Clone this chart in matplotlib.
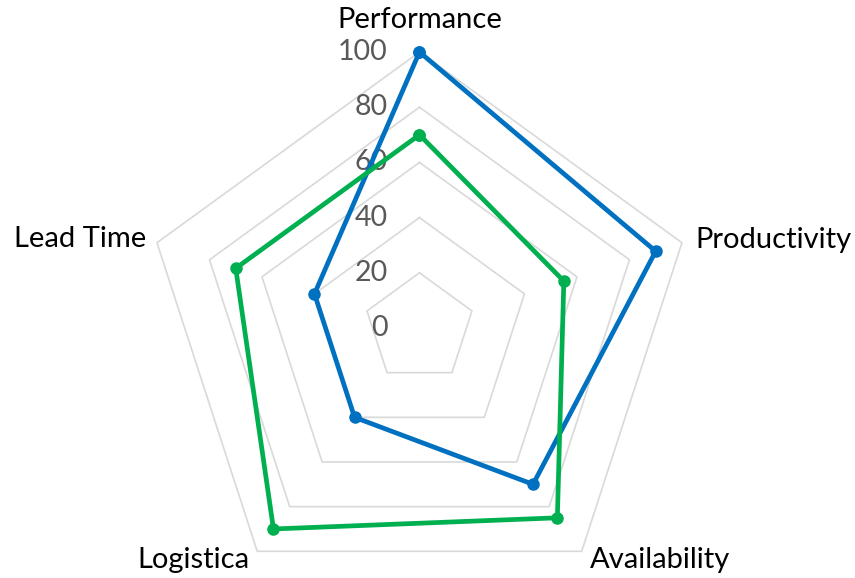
import numpy as np
import matplotlib.pyplot as plt

# Datos del gráfico radar
categories = ["Performance", "Productivity", "Availability", "Logistica", "Lead Time"]
blue_values = [100, 90, 70, 40, 40]
green_values = [70, 55, 85, 90, 70]
ring_values = [20, 40, 60, 80, 100]
tick_labels = ["0", "20", "40", "60", "80", "100"]

BLUE = "#0070C0"
GREEN = "#00B050"
GRID = "#D9D9D9"
TICK = "#595959"

plt.rcParams['font.family'] = ['Lato', 'DejaVu Sans']

fig = plt.figure(figsize=(8.55, 5.78), dpi=100)
ax = fig.add_axes([0.1678, -0.045, 0.6456, 0.955], projection='polar')
ax.set_theta_offset(np.pi / 2)
ax.set_theta_direction(-1)
ax.set_ylim(0, 100)
ax.grid(False)
ax.spines['polar'].set_visible(False)
ax.set_xticks([])
ax.set_yticks([])
ax.patch.set_alpha(0)

angles = np.linspace(0, 2 * np.pi, len(categories), endpoint=False)
closed = np.append(angles, angles[0])

# Pentágonos de la rejilla
for r in ring_values:
    ax.plot(closed, [r] * len(closed), color=GRID, linewidth=1.2, zorder=1,
            clip_on=False)

# Etiquetas del eje radial
for i, lab in enumerate(tick_labels):
    ax.annotate(lab, (0, i * 20), textcoords='offset pixels', xytext=(-32, 0),
                ha='right', va='center', fontsize=20.5, color=TICK, zorder=2)

# Series
ax.plot(closed, blue_values + blue_values[:1], color=BLUE, linewidth=3.4,
        marker='o', markersize=8, zorder=4, clip_on=False)
ax.plot(closed, green_values + green_values[:1], color=GREEN, linewidth=3.4,
        marker='o', markersize=8, zorder=5, clip_on=False)

# Nombres de las categorías
offsets = [((0, 24), 'center'), ((13, -5), 'left'), ((8, -17), 'left'),
           ((-8, -17), 'right'), ((-11, -4), 'right')]
for ang, name, (off, ha) in zip(angles, categories, offsets):
    ax.annotate(name, (ang, 100), textcoords='offset pixels', xytext=off,
                ha=ha, va='baseline', fontsize=21, color='black',
                annotation_clip=False)

fig.savefig("out.png", dpi=100)
